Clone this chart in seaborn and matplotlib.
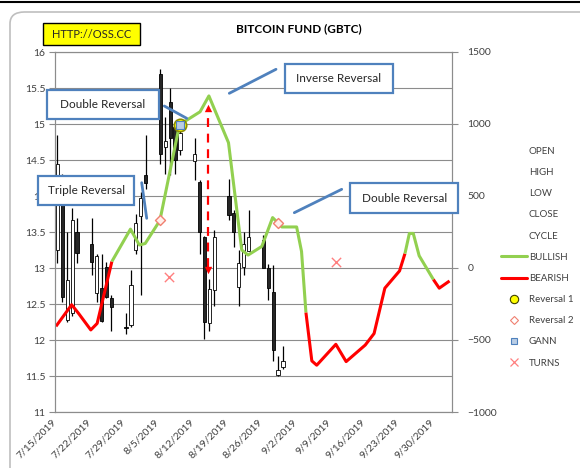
import matplotlib
matplotlib.use("Agg")
import matplotlib.pyplot as plt
import seaborn as sns
import pandas as pd
from matplotlib.lines import Line2D
from matplotlib.patches import Rectangle, FancyBboxPatch

# ---- data ----
START = pd.Timestamp("2019-07-15")

CANDLE_DATES = ["2019-07-15", "2019-07-16", "2019-07-17", "2019-07-18", "2019-07-19",
                "2019-07-22", "2019-07-23", "2019-07-24", "2019-07-25", "2019-07-26",
                "2019-07-29", "2019-07-30", "2019-07-31", "2019-08-01", "2019-08-02",
                "2019-08-05", "2019-08-06", "2019-08-07", "2019-08-08", "2019-08-09",
                "2019-08-12", "2019-08-13", "2019-08-14", "2019-08-15", "2019-08-16",
                "2019-08-19", "2019-08-20", "2019-08-21", "2019-08-22", "2019-08-23",
                "2019-08-26", "2019-08-27", "2019-08-28", "2019-08-29", "2019-08-30"]
OPEN = [13.25, 14.10, 12.28, 12.37, 13.50,
        13.33, 12.65, 12.72, 13.02, 12.58,
        12.18, 12.21, 13.25, 13.72, 14.29,
        15.69, 14.68, 15.31, 14.96, 14.64,
        14.48, 14.20, 13.43, 12.24, 12.69,
        14.00, 13.76, 12.74, 13.02, 13.24,
        13.39, 13.00, 12.66, 11.52, 11.62]
HIGH = [14.85, 14.30, 13.50, 13.83, 13.69,
        13.70, 13.20, 13.20, 13.09, 12.62,
        12.38, 12.97, 13.75, 14.06, 14.85,
        15.76, 15.10, 15.50, 15.00, 14.97,
        14.80, 14.22, 13.45, 12.85, 13.53,
        14.23, 13.80, 13.25, 13.50, 13.80,
        13.46, 13.05, 13.04, 11.78, 11.91]
LOW = [13.07, 12.53, 12.25, 12.33, 13.07,
       12.90, 12.53, 12.25, 12.58, 12.12,
       12.09, 12.18, 13.20, 12.63, 14.10,
       14.45, 14.30, 14.29, 14.31, 14.57,
       14.22, 13.20, 12.02, 12.13, 12.47,
       13.67, 13.29, 12.47, 12.90, 13.23,
       13.00, 12.55, 11.71, 11.50, 11.60]
CLOSE = [14.45, 12.60, 12.84, 13.67, 13.21,
         13.08, 13.17, 12.27, 12.60, 12.46,
         12.16, 12.76, 13.63, 13.97, 14.18,
         14.59, 14.77, 14.80, 14.50, 14.87,
         14.59, 13.50, 12.25, 12.71, 13.43,
         13.74, 13.50, 13.07, 13.34, 13.43,
         13.00, 12.72, 11.86, 11.59, 11.71]

# cycle line (days after 7/15) and the phase of the segment starting at each point
CYCLE_DAYS = [0.2, 3.4, 4.8, 7.3, 8.6, 11.6, 15.4, 17.2, 18.4, 21.4, 25.4, 29.6, 31.4,
              35.4, 38.1, 39.4, 42.2, 44.4, 46.3, 49.3, 50.3, 51.2, 52.4, 53.4, 57.3,
              59.4, 63.3, 65.1, 67.3, 70.3, 71.4, 72.3, 73.1, 74.3, 77.2, 78.4, 80.5]
CYCLE_VALUES = [12.19, 12.49, 12.37, 12.14, 12.23, 13.09, 13.54, 13.32, 13.34, 13.66, 14.99,
                15.17, 15.39, 14.74, 13.25, 13.18, 13.30, 13.70, 13.57, 13.57, 13.23, 12.38,
                11.71, 11.65, 11.94, 11.70, 11.93, 12.09, 12.72, 12.96, 13.20, 13.48, 13.48,
                13.17, 12.84, 12.72, 12.82]
CYCLE_PHASE = ["bear"] * 5 + ["bull"] * 16 + ["bear"] * 9 + ["bull"] * 4 + ["bear"] * 3

REV1_DAYS, REV1_VALUES = [25.5], [14.98]
REV2_DAYS, REV2_VALUES = [21.4, 45.4], [13.66, 13.63]
GANN_DAYS, GANN_VALUES = [25.5], [14.98]
TURN_DAYS, TURN_VALUES = [23.3, 57.3], [12.88, 13.09]

ARROW_DAY, ARROW_LOW, ARROW_HIGH = 31.3, 12.93, 15.26

TICK_DAYS = list(range(0, 78, 7))
TICK_LABELS = ["7/15/2019", "7/22/2019", "7/29/2019", "8/5/2019", "8/12/2019", "8/19/2019",
               "8/26/2019", "9/2/2019", "9/9/2019", "9/16/2019", "9/23/2019", "9/30/2019"]

LEGEND_LABELS = ["OPEN", "HIGH", "LOW", "CLOSE", "CYCLE", "BULLISH", "BEARISH",
                 "Reversal 1", "Reversal 2", "GANN", "TURNS"]

# ---- styling ----
sns.set_style("white")
plt.rcParams["font.family"] = ["Lato", "DejaVu Sans"]
TXT = "#404040"
GRID = "#8c8c8c"
GREEN = "#92D050"
RED = "#FF0000"
BLUE = "#4F81BD"

W, H = 580, 468
fig = plt.figure(figsize=(W / 100, H / 100), dpi=100)


def px(x, y):
    return x / W, 1 - y / H


ax = fig.add_axes([55 / W, 1 - 412 / H, (452 - 55) / W, (412 - 52) / H])
ax2 = ax.twinx()

candles = pd.DataFrame({"date": pd.to_datetime(CANDLE_DATES), "open": OPEN, "high": HIGH,
                        "low": LOW, "close": CLOSE})
candles["x"] = (candles["date"] - START).dt.days + 0.5
up = candles["close"] >= candles["open"]

ax.vlines(candles["x"], candles["low"], candles["high"], color="black", lw=0.9, zorder=2)
ax.bar(candles["x"], candles["close"] - candles["open"], bottom=candles["open"], width=0.65,
       color=["white" if u else "#262626" for u in up], edgecolor="black", lw=0.6, zorder=3)

# split cycle into bullish / bearish runs
runs = []
for i in range(len(CYCLE_DAYS) - 1):
    ph = CYCLE_PHASE[i]
    if runs and runs[-1][0] == ph:
        runs[-1][1].append(i + 1)
    else:
        runs.append((ph, [i, i + 1]))
for ph, idx in runs:
    sns.lineplot(x=[CYCLE_DAYS[i] for i in idx], y=[CYCLE_VALUES[i] for i in idx], ax=ax,
                 color=GREEN if ph == "bull" else RED, lw=2.2, sort=False,
                 estimator=None, zorder=4, solid_capstyle="butt")

# dashed double arrow
ax.plot([ARROW_DAY, ARROW_DAY], [ARROW_LOW + 0.08, ARROW_HIGH - 0.08], color=RED, lw=1.6,
        ls=(0, (4, 3)), zorder=4)
ax.scatter([ARROW_DAY], [ARROW_HIGH - 0.04], marker="^", s=28, color=RED, lw=0, zorder=5)
ax.scatter([ARROW_DAY], [ARROW_LOW + 0.04], marker="v", s=28, color=RED, lw=0, zorder=5)

sns.scatterplot(x=REV2_DAYS, y=REV2_VALUES, ax=ax, marker="D", s=26, color="#FFF0EC",
                edgecolor="#F08070", linewidth=1, zorder=6)
sns.scatterplot(x=TURN_DAYS, y=TURN_VALUES, ax=ax, marker="x", s=45, color="#FF7F7F",
                linewidth=1, zorder=6)
sns.scatterplot(x=REV1_DAYS, y=REV1_VALUES, ax=ax, marker="o", s=80, color="#FFFF00",
                edgecolor="#8C8C00", linewidth=1.2, zorder=6)
sns.scatterplot(x=GANN_DAYS, y=GANN_VALUES, ax=ax, marker="s", s=28, color="#B9CDE5",
                edgecolor=BLUE, linewidth=0.8, zorder=7)

# axes
ax.set_xlim(0, 81)
ax.set_ylim(11, 16)
ax.set_yticks([11 + 0.5 * i for i in range(11)])
ax.set_yticklabels(["11", "11.5", "12", "12.5", "13", "13.5", "14", "14.5", "15", "15.5", "16"])
ax.set_xticks(TICK_DAYS)
ax.set_xticklabels(TICK_LABELS, rotation=45, ha="right", va="center", rotation_mode="anchor")
ax.yaxis.grid(True, color=GRID, lw=0.8)
ax.set_axisbelow(True)
ax.set_xlabel("")
ax.set_ylabel("")
ax.tick_params(axis="both", direction="out", length=4, width=0.8, color=GRID,
               labelsize=7.5, labelcolor=TXT, pad=3)
ax.tick_params(axis="x", pad=2)
for s in ["left", "bottom", "right", "top"]:
    ax.spines[s].set_color(GRID)
    ax.spines[s].set_linewidth(0.8)

ax2.set_ylim(-1000, 1500)
ax2.set_yticks([-1000, -500, 0, 500, 1000, 1500])
ax2.tick_params(axis="y", direction="out", length=4, width=0.8, color=GRID,
                labelsize=7.5, labelcolor=TXT, pad=7)
for s in ["left", "bottom", "right", "top"]:
    ax2.spines[s].set_color(GRID)
    ax2.spines[s].set_linewidth(0.8)

# legend
handles = [Line2D([], [], ls="none") for _ in range(5)]
handles += [Line2D([], [], color=GREEN, lw=2.2), Line2D([], [], color=RED, lw=2.2),
            Line2D([], [], ls="none", marker="o", ms=6, mfc="#FFFF00", mec="#404000", mew=0.8),
            Line2D([], [], ls="none", marker="D", ms=4.5, mfc="white", mec="#F08070", mew=0.8),
            Line2D([], [], ls="none", marker="s", ms=5, mfc="#B9CDE5", mec=BLUE, mew=0.8),
            Line2D([], [], ls="none", marker="x", ms=6, mec="#FF7F7F", mew=0.9)]
fig.legend(handles, LEGEND_LABELS, loc="upper left", bbox_to_anchor=px(501, 147),
           frameon=False, fontsize=7, handlelength=2.7, handletextpad=0.15,
           labelspacing=1.25, borderpad=0, borderaxespad=0, labelcolor=TXT)

# outer frame and top rule
fig.add_artist(FancyBboxPatch(px(10, 490), (600 - 10) / W, (490 - 12) / H,
                              boxstyle="round,pad=0,rounding_size=0.025",
                              transform=fig.transFigure, fill=False, edgecolor="#BFBFBF", lw=1.2))
fig.add_artist(Line2D([0, 1], [1 - 1.5 / H, 1 - 1.5 / H], transform=fig.transFigure,
                      color="black", lw=1.5))

# title and boxes
fig.text(*px(299, 29), "BITCOIN FUND (GBTC)", ha="center", va="center",
         fontsize=8.5, fontweight="bold", color="black")


def box(x0, y0, x1, y1, text, face="white", edge=BLUE, lw=1.6, size=8.5):
    fig.add_artist(Rectangle(px(x0, y1), (x1 - x0) / W, (y1 - y0) / H,
                             transform=fig.transFigure, facecolor=face, edgecolor=edge,
                             lw=lw, zorder=5))
    fig.text(*px((x0 + x1) / 2, (y0 + y1) / 2), text, ha="center", va="center",
             fontsize=size, color="#262626", zorder=6)


def connector(x0, y0, x1, y1):
    (a, b), (c, d) = px(x0, y0), px(x1, y1)
    fig.add_artist(Line2D([a, c], [b, d], transform=fig.transFigure, color=BLUE, lw=2,
                          zorder=5))


box(42.7, 23.3, 140, 45, "HTTP://OSS.CC", face="#FFFF00", edge="black", lw=1.0, size=8)
box(46.7, 90, 159.3, 119, "Double Reversal")
box(38.3, 175.7, 134.3, 205, "Triple Reversal")
box(285, 64, 392.7, 92.7, "Inverse Reversal")
box(350, 183.3, 458.3, 212.7, "Double Reversal")
connector(164.3, 106, 186.7, 118.3)
connector(141.7, 182.7, 146.7, 218.3)
connector(229.3, 93.3, 276, 69.3)
connector(294.3, 212.7, 341.7, 189.3)

fig.savefig("out.png", dpi=100)
